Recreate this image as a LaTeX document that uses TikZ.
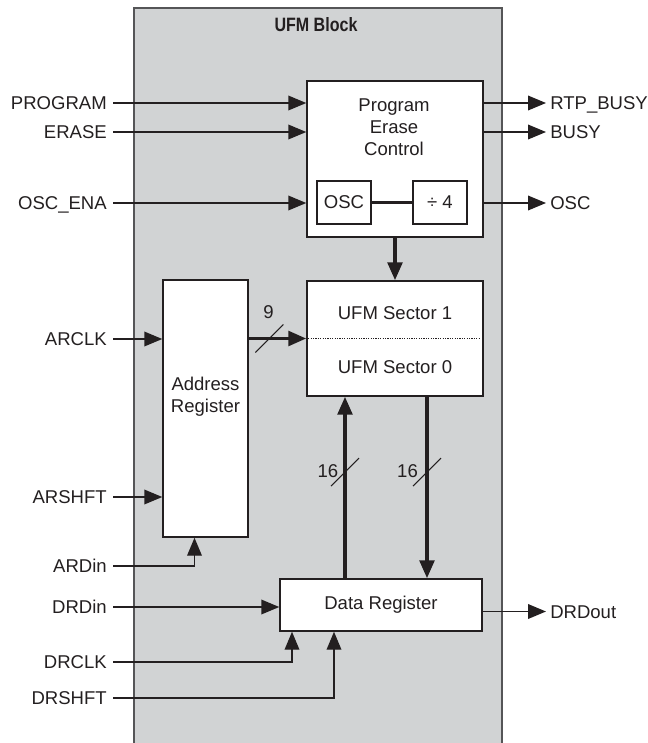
\documentclass[tikz,border=0pt]{standalone}
\usepackage{fontspec}
\setmainfont{Liberation Sans}
\usetikzlibrary{arrows.meta, fit}

\definecolor{panelgray}{RGB}{209,211,212}
\definecolor{edgegray}{RGB}{85,85,87}
\definecolor{ink}{RGB}{35,31,32}

\begin{document}
\begin{tikzpicture}[x=0.75pt, y=-0.75pt, >={Triangle[length=13.5pt, width=11pt]},
    font=\fontsize{13.9}{16.5}\selectfont, text=ink,
    box/.style={draw=ink, line width=1.1pt, fill=white, inner sep=0pt},
    sig/.style={draw=ink, line width=1.1pt},
    bus/.style={draw=ink, line width=2.7pt},
    tick/.style={draw=ink, line width=0.8pt},
    inlbl/.style={anchor=east, inner ysep=0pt, inner xsep=4.5pt, text height=9.95pt, text depth=0pt},
    outlbl/.style={anchor=west, inner ysep=0pt, inner xsep=3pt, text height=9.95pt, text depth=0pt}]
    \useasboundingbox (0,0) rectangle (648,743);

    % UFM block
    \fill[panelgray] (134,8) rectangle (502,750);
    \draw[edgegray, line width=1.1pt] (134,750) -- (134,8) -- (502,8) -- (502,750);
    \node (title) at (316,25) {\fontsize{14.5}{17}\selectfont\bfseries\scalebox{0.83}[1]{UFM Block}};

    % blocks
    \node[box, fit={(307,81) (483,237)}] (pec) {};
    \node[align=center] (pectxt) at (394,127) {Program\\Erase\\Control};
    \node[box, fit={(317,181) (371,224)}, label=center:OSC] (osc) {};
    \node[box, fit={(413,181) (467,224)}, label=center:{÷ 4}] (div) {};
    \draw[ink, line width=2pt] (osc) -- (div);

    \node[box, fit={(307,281) (483,396)}] (sector) {};
    \node (sec1) at (395,313) {UFM Sector 1};
    \node (sec0) at (395,367) {UFM Sector 0};
    \draw[ink, densely dotted, line width=0.8pt] ([xshift=1.5pt]sector.west) -- ([xshift=-3.5pt]sector.east);

    \node[box, fit={(163,280) (248,537)}] (addr) {};
    \node[align=center] (addrtxt) at (205.5,396.5) {Address\\Register};

    \node[box, fit={(280,579) (482,631)}, label=center:{Data Register}] (data) {};

    % inputs
    \node[inlbl] (program) at (113,103) {PROGRAM};
    \node[inlbl] (erase) at (113,132) {ERASE};
    \node[inlbl] (oscena) at (113,203) {OSC\_ENA};
    \node[inlbl] (arclk) at (113,339) {ARCLK};
    \node[inlbl] (arshft) at (113,497) {ARSHFT};
    \node[inlbl] (ardin) at (113,566) {ARDin};
    \node[inlbl] (drdin) at (113,607) {DRDin};
    \node[inlbl] (drclk) at (113,662) {DRCLK};
    \node[inlbl] (drshft) at (113,698) {DRSHFT};

    \draw[sig,->] (program.east) -- (program.east -| pec.west);
    \draw[sig,->] (erase.east) -- (erase.east -| pec.west);
    \draw[sig,->] (oscena.east) -- (oscena.east -| pec.west);
    \draw[sig,->] (arclk.east) -- (arclk.east -| addr.west);
    \draw[sig,->] (arshft.east) -- (arshft.east -| addr.west);
    \draw[sig,->] (ardin.east) -| ([xshift=-8.25pt]addr.south);
    \draw[sig,->] (drdin.east) -- (drdin.east -| data.west);
    \draw[sig,->] (drclk.east) -| ([xshift=-66.75pt]data.south);
    \draw[sig,->] (drshft.east) -| ([xshift=-35.25pt]data.south);

    % outputs
    \node[outlbl] (rtpbusy) at (546,103) {RTP\_BUSY};
    \node[outlbl] (busy) at (546,132) {BUSY};
    \node[outlbl] (oscout) at (546,203) {OSC};
    \node[outlbl] (drdout) at (546,611.5) {DRDout};

    \draw[sig,->] (rtpbusy.west -| pec.east) -- (rtpbusy.west);
    \draw[sig,->] (busy.west -| pec.east) -- (busy.west);
    \draw[sig,->] (oscout.west -| pec.east) -- (oscout.west);
    \draw[sig,->] (drdout.west -| data.east) -- (drdout.west);

    % buses
    \draw[bus,->] (pec.south) -- (sector.north);
    \draw[bus,->] (addr.east |- sector.west) -- (sector.west) coordinate[pos=0.36] (b9);
    \draw[tick] ([shift={(-14,14)}]b9) -- ([shift={(14,-14)}]b9);
    \node (w9) at ([shift={(-1,-26)}]b9) {9};

    \draw[bus,->] ([xshift=-27pt]data.north) -- ([xshift=-27pt]data.north |- sector.south) coordinate[pos=0.585] (bin);
    \draw[tick] ([shift={(-14,14)}]bin) -- ([shift={(14,-14)}]bin);
    \node (win) at ([shift={(-17,-1)}]bin) {16};

    \draw[bus,->] ([xshift=24pt]sector.south) -- ([xshift=24pt]sector.south |- data.north) coordinate[pos=0.415] (bout);
    \draw[tick] ([shift={(-14,14)}]bout) -- ([shift={(14,-14)}]bout);
    \node (wout) at ([shift={(-19.5,-1)}]bout) {16};
\end{tikzpicture}
\end{document}
